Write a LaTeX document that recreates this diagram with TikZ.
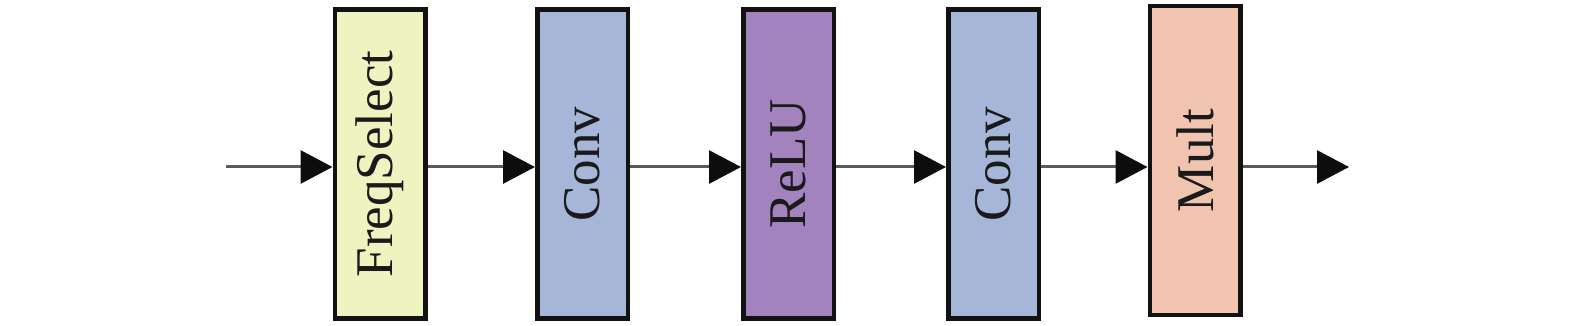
\documentclass[tikz,border=0pt]{standalone}
\usepackage{fontspec}
\setmainfont{Liberation Serif}
\usetikzlibrary{arrows.meta}
\definecolor{cfreq}{HTML}{EEF3C0}
\definecolor{cconv}{HTML}{A5B6D9}
\definecolor{crelu}{HTML}{A283BD}
\definecolor{cmult}{HTML}{F1C4B0}
\definecolor{cline}{HTML}{5A5A5A}
\definecolor{ctext}{HTML}{1A1A1A}
\tikzset{
  blockbox/.style={draw=black!93, line width=4.5pt, minimum width=90.5pt, minimum height=309pt, inner sep=0pt,
    font=\fontsize{53}{53}\selectfont, text=ctext},
  arr/.style={draw=cline, line width=3pt, -{Triangle[length=32pt,width=33pt,color=black!95]}},
}
\begin{document}
\begin{tikzpicture}[x=1pt,y=-1pt]
\useasboundingbox (0,0) rectangle (1575,326);
\node[blockbox, fill=cfreq] (f) at (380,164) {\rotatebox{90}{FreqSelect}};
\node[blockbox, fill=cconv] (c1) at (582.5,164) {\rotatebox{90}{Conv}};
\node[blockbox, fill=crelu] (r) at (788.5,164) {\rotatebox{90}{ReLU}};
\node[blockbox, fill=cconv] (c2) at (993.5,164) {\rotatebox{90}{Conv}};
\node[blockbox, fill=cmult] (m) at (1195,160.5) {\rotatebox{90}{Mult}};
\coordinate (s) at (226,167);
\coordinate (e) at (1349,167);
\draw[arr] (s) -- (s -| f.west);
\draw[arr] (s -| f.east) -- (s -| c1.west);
\draw[arr] (s -| c1.east) -- (s -| r.west);
\draw[arr] (s -| r.east) -- (s -| c2.west);
\draw[arr] (s -| c2.east) -- (s -| m.west);
\draw[arr] (s -| m.east) -- (e);
\end{tikzpicture}
\end{document}
